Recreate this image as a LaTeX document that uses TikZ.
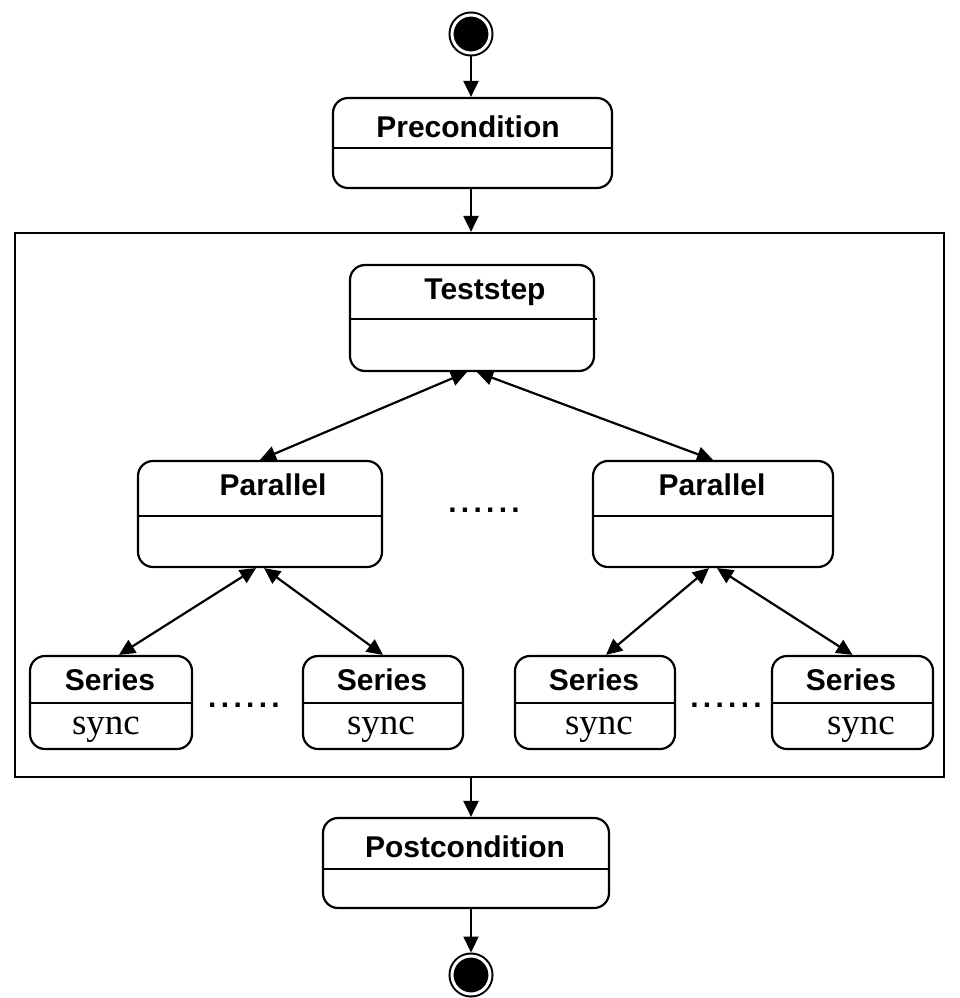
\documentclass[tikz,border=0pt]{standalone}
\usepackage{fontspec}
\newfontfamily\headfont{Liberation Sans}
\newfontfamily\bodyfont{Liberation Serif}
\usetikzlibrary{arrows.meta}
\newcommand\dotrun{.\kern4.3pt.\kern4.3pt.\kern4.3pt.\kern4.3pt.\kern4.3pt.}
\tikzset{
  x=1pt, y=-1pt,
  statebox/.style={draw, line width=2.2pt, rounded corners=15pt, inner sep=0pt},
  frame/.style={draw, line width=2.2pt, inner sep=0pt},
  title/.style={font=\headfont\bfseries\fontsize{30}{36}\selectfont, anchor=base, inner sep=0pt},
  body/.style={font=\bodyfont\fontsize{37}{44}\selectfont, anchor=base, inner sep=0pt},
  ellip/.style={font=\headfont\bfseries\fontsize{30}{36}\selectfont, anchor=base, inner sep=0pt},
  divider/.style={line width=2.2pt},
  pseudo/.style={circle, draw, fill=black, line width=2pt, double, double distance=3pt,
                 minimum size=38pt, inner sep=0pt, outer sep=3.5pt},
  tip/.tip={Triangle[length=16pt,width=15pt]},
  flow/.style={line width=2.2pt, -tip},
  both/.style={line width=2.2pt, tip-tip},
}
\begin{document}
\begin{tikzpicture}
\useasboundingbox (0,0) rectangle (959,998);

% start and end pseudo-states
\node[pseudo] (init) at (471,34) {};
\node[pseudo] (final) at (471,975) {};

% precondition
\node[statebox, minimum width=279pt, minimum height=90pt] (pre) at (472.5,143) {};
\draw[divider] (pre.west |- 0,148) -- (pre.east |- 0,148);
\node[title] (pretitle) at (468,137) {Precondition};

% test step frame
\node[frame, minimum width=929pt, minimum height=544pt] (frame) at (479.5,505) {};

% test step
\node[statebox, minimum width=244pt, minimum height=106pt] (test) at (472,318) {};
\draw[divider] (test.west |- 0,319) -- (597,319);
\node[title] (testtitle) at (485,299) {Teststep};

% parallel blocks
\node[statebox, minimum width=244pt, minimum height=106pt] (parL) at (260,514) {};
\draw[divider] (parL.west |- 0,516) -- (parL.east |- 0,516);
\node[title] (parLtitle) at (273,495) {Parallel};

\node[statebox, minimum width=240pt, minimum height=106pt] (parR) at (713,514) {};
\draw[divider] (parR.west |- 0,516) -- (parR.east |- 0,516);
\node[title] (parRtitle) at (712,495) {Parallel};

\node[ellip] (dotsP) at (484,512) {\dotrun};

% series blocks
\node[statebox, minimum width=162pt, minimum height=93pt] (s1) at (111,702.5) {};
\node[statebox, minimum width=160pt, minimum height=93pt] (s2) at (383,702.5) {};
\node[statebox, minimum width=160pt, minimum height=93pt] (s3) at (595,702.5) {};
\node[statebox, minimum width=161pt, minimum height=93pt] (s4) at (852.5,702.5) {};
\foreach \s in {s1,s2,s3,s4}
  \draw[divider] (\s.west |- 0,703) -- (\s.east |- 0,703);

\node[title] (s1title) at (110,690) {Series};
\node[title] (s2title) at (382,690) {Series};
\node[title] (s3title) at (594,690) {Series};
\node[title] (s4title) at (851,690) {Series};
\node[body] (s1body) at (106,734) {sync};
\node[body] (s2body) at (381,734) {sync};
\node[body] (s3body) at (599,734) {sync};
\node[body] (s4body) at (861,734) {sync};

\node[ellip] (dotsL) at (244,707) {\dotrun};
\node[ellip] (dotsR) at (726,707) {\dotrun};

% postcondition
\node[statebox, minimum width=286pt, minimum height=90pt] (post) at (466,863) {};
\draw[divider] (post.west |- 0,869) -- (post.east |- 0,869);
\node[title] (posttitle) at (465,857) {Postcondition};

% control flow
\draw[flow] (init.south) -- (init.south |- pre.north);
\draw[flow] (init |- pre.south) -- (init |- frame.north);
\draw[flow] (init |- frame.south) -- (init |- post.north);
\draw[flow] (init |- post.south) -- (final.north);

\draw[both] ([xshift=-5pt]test.south) -- (parL.north);
\draw[both] ([xshift=5pt]test.south) -- (parR.north);
\draw[both] ([xshift=-4pt]parL.south) -- ([xshift=8pt]s1.north);
\draw[both] ([xshift=4pt]parL.south) -- (s2.north);
\draw[both] ([xshift=-4pt]parR.south) -- ([xshift=11pt]s3.north);
\draw[both] ([xshift=4pt]parR.south) -- (s4.north);
\end{tikzpicture}
\end{document}
